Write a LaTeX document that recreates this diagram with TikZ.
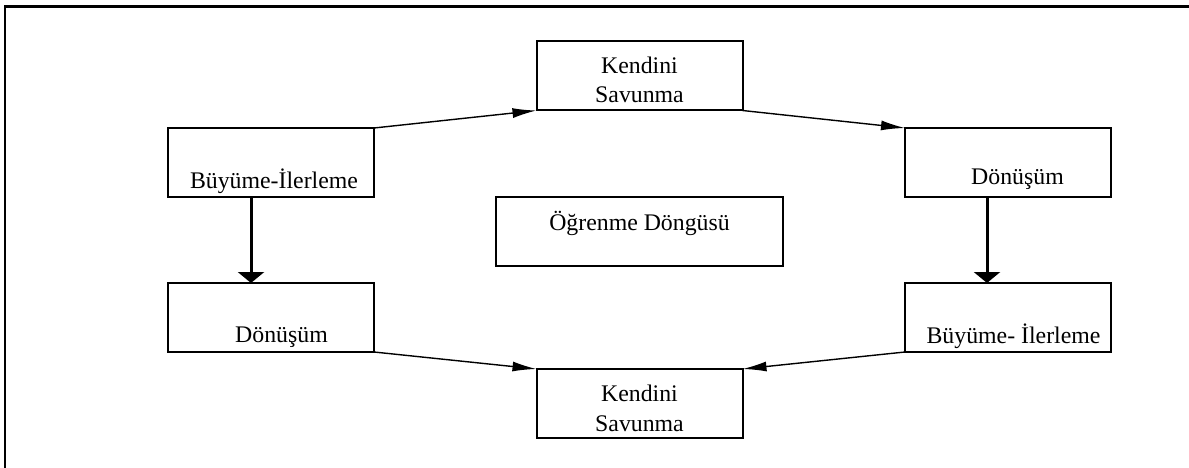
\documentclass[tikz,border=0pt]{standalone}
\usepackage{fontspec}
\setmainfont{Liberation Serif}
\usetikzlibrary{arrows.meta}

\begin{document}
\begin{tikzpicture}[x=1pt,y=-1pt,
  kutu/.style = {rectangle,draw=black,line width=2pt,minimum width=206pt,minimum height=69pt,inner sep=0pt,outer sep=0pt},
  yazi/.style = {anchor=base,inner sep=0pt,font=\fontsize{23.8}{29.5}\selectfont,align=center},
  ince/.style = {line width=1.4pt,-{Latex[length=24pt,width=10pt]}},
  kalin/.style = {line width=3pt,-{Triangle[length=11pt,width=26pt]}}]
\useasboundingbox (0,0) rectangle (1189,468);
\draw[line width=2.6pt] (5,468) -- (5,6.5) -- (1189,6.5);
% kutular
\node[kutu] (bl) at (271,162.5) {};
\node[kutu] (dl) at (271,317.5) {};
\node[kutu] (kt) at (639.5,76) {};
\node[kutu,minimum width=287pt] (og) at (639.5,231.5) {};
\node[kutu] (kb) at (639.5,403.5) {};
\node[kutu] (dr) at (1008,162.5) {};
\node[kutu] (br) at (1008,317.5) {};
% yazilar
\node[yazi] (blt) at (274,188) {Büyüme-İlerleme};
\node[yazi] (dlt) at (281.5,342) {Dönüşüm};
\node[yazi] (ktt) at (639.5,103) {Kendini\\Savunma};
\node[yazi] (ogt) at (639.5,230) {Öğrenme Döngüsü};
\node[yazi] (kbt) at (639.5,431) {Kendini\\Savunma};
\node[yazi] (drt) at (1017.5,185) {Dönüşüm};
\node[yazi] (brt) at (1013.5,343) {Büyüme- İlerleme};
% oklar
\draw[ince] (bl.north east) -- (kt.south west);
\draw[ince] (kt.south east) -- (dr.north west);
\draw[ince] (dl.south east) -- (kb.north west);
\draw[ince] (br.south west) -- (kb.north east);
\draw[kalin] (bl.south -| 251,0) -- (dl.north -| 251,0);
\draw[kalin] (dr.south -| 987,0) -- (br.north -| 987,0);
\end{tikzpicture}
\end{document}
